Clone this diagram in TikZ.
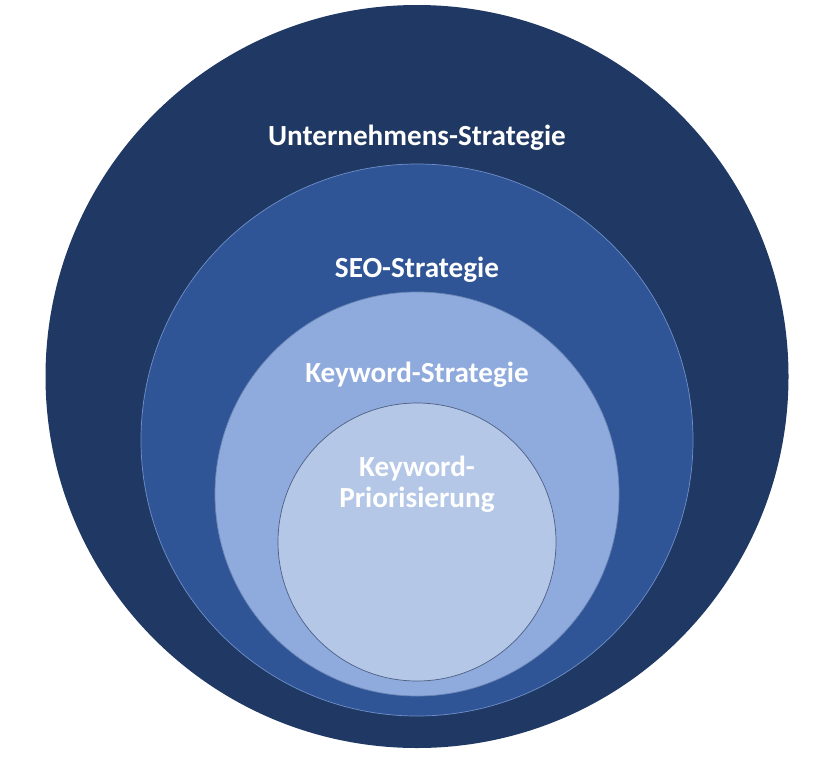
\documentclass[tikz,border=0pt]{standalone}
\usepackage{fontspec}
\setmainfont{Carlito}
\usepackage{tikz}
\definecolor{ringA}{HTML}{203864}
\definecolor{ringB}{HTML}{2F5597}
\definecolor{ringC}{HTML}{8FAADC}
\definecolor{ringD}{HTML}{B4C7E7}
\definecolor{rimB}{HTML}{6F8FC9}
\tikzset{
    label text/.style={text=white, font=\fontsize{24.9}{26.5}\selectfont\bfseries, inner sep=0pt, align=center},
    ring/.style={line width=0.6pt}
}

\begin{document}
\begin{tikzpicture}[x=0.03cm, y=-0.03cm]
        \useasboundingbox (0,0) rectangle (825,759);
        % Explicit Coordinates: circle centres in pixels of the original picture
        \coordinate (C1) at (417, 376.5);   % Unternehmen
        \coordinate (C2) at (417, 440);     % SEO
        \coordinate (C3) at (417, 494);     % Keyword
        \coordinate (C4) at (417, 542);     % Priorisierung

        \fill[ringA] (C1) circle (371.5);
        \filldraw[ring, fill=ringB, draw=rimB] (C2) circle (276);
        \filldraw[ring, fill=ringC, draw=ringB!70] (C3) circle (202);
        \filldraw[ring, fill=ringD, draw=ringA!80] (C4) circle (139);

        \node[label text, anchor=base] (unternehmen) at (417, 145) {Unternehmens-Strategie};
        \node[label text, anchor=base] (seo) at (417, 277) {SEO-Strategie};
        \node[label text, anchor=base] (keyword) at (417, 382) {Keyword-Strategie};
        \node[label text] (prio) at (417, 484) {Keyword-\\Priorisierung};
    \end{tikzpicture}
\end{document}
